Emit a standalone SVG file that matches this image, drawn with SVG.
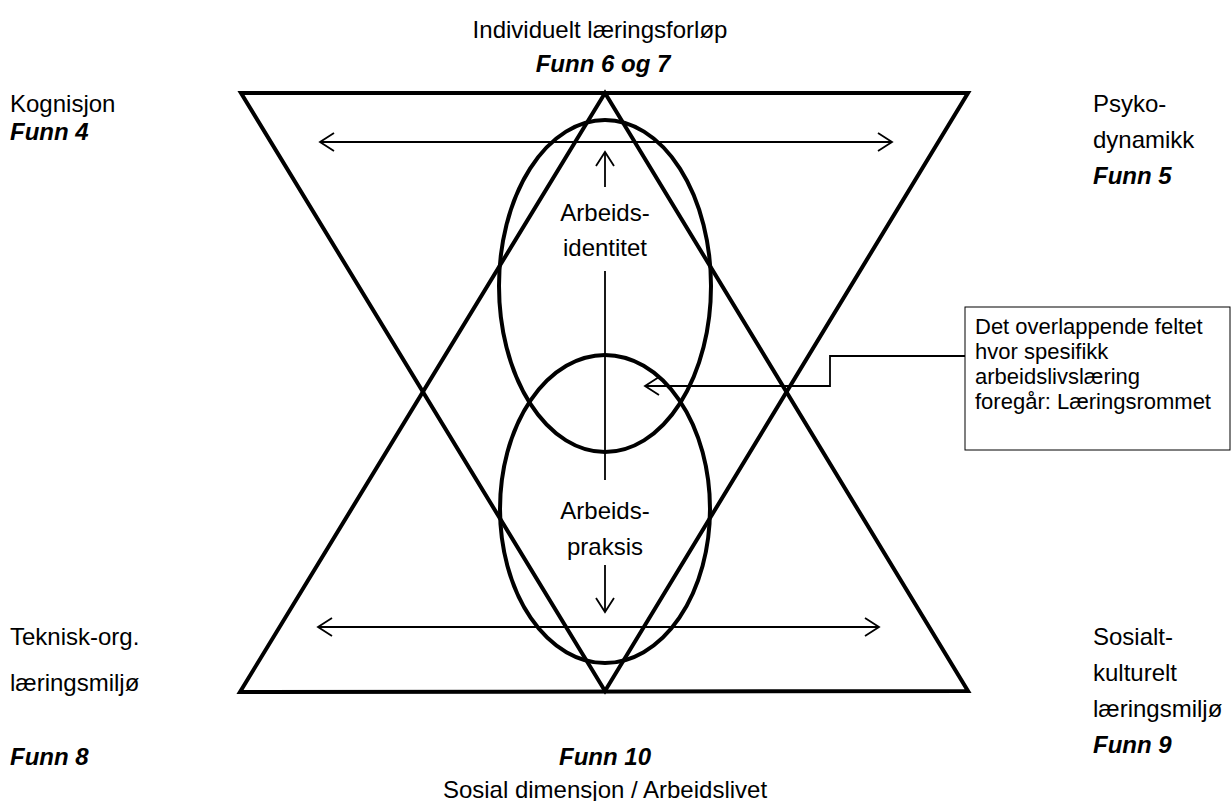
<svg xmlns="http://www.w3.org/2000/svg" width="1231" height="801" viewBox="0 0 1231 801">
<style>
text{font-family:"Liberation Sans",Arial,sans-serif;fill:#000}
.lbl{font-size:24px}
.fn{font-size:24px;font-weight:bold;font-style:italic}
.box{font-size:22px}
.thick{fill:none;stroke:#000;stroke-width:4;stroke-linejoin:miter}
.thin{fill:none;stroke:#000;stroke-width:1.8}
</style>
<defs>
<marker id="ah" markerWidth="20" markerHeight="20" refX="16" refY="10" orient="auto-start-reverse" markerUnits="userSpaceOnUse">
<path d="M2,1 L16,10 L2,19" fill="none" stroke="#000" stroke-width="1.8"/>
</marker>
</defs>
<rect width="1231" height="801" fill="#fff"/>
<g id="shapes">
<polygon id="down-triangle" class="thick" points="241,93 968,93 605,691"/>
<polygon id="up-triangle" class="thick" points="605,93 968,691 240,692"/>
<ellipse id="upper-ellipse" class="thick" cx="605" cy="286" rx="106" ry="166"/>
<ellipse id="lower-ellipse" class="thick" cx="605" cy="509" rx="105" ry="154"/>
</g>
<g id="connectors">
<line class="thin" x1="320" y1="142" x2="892" y2="142" marker-start="url(#ah)" marker-end="url(#ah)"/>
<line class="thin" x1="318" y1="627" x2="879" y2="627" marker-start="url(#ah)" marker-end="url(#ah)"/>
<line class="thin" x1="605" y1="187" x2="605" y2="152" marker-end="url(#ah)"/>
<line class="thin" x1="605" y1="271" x2="605" y2="480"/>
<line class="thin" x1="605" y1="565" x2="605" y2="612" marker-end="url(#ah)"/>
<polyline class="thin" points="965,356 830,356 830,386 645,386" marker-end="url(#ah)"/>
</g>
<g id="top-label">
<text class="lbl" x="600" y="38" text-anchor="middle">Individuelt læringsforløp</text>
<text class="fn" x="603" y="72" text-anchor="middle">Funn 6 og 7</text>
</g>
<g id="kognisjon">
<text class="lbl" x="10" y="112">Kognisjon</text>
<text class="fn" x="10" y="140">Funn 4</text>
</g>
<g id="psykodynamikk">
<text class="lbl" x="1093" y="112">Psyko-</text>
<text class="lbl" x="1093" y="148">dynamikk</text>
<text class="fn" x="1093" y="184">Funn 5</text>
</g>
<g id="teknisk">
<text class="lbl" x="10" y="645">Teknisk-org.</text>
<text class="lbl" x="10" y="691">læringsmiljø</text>
<text class="fn" x="10" y="765">Funn 8</text>
</g>
<g id="sosialt">
<text class="lbl" x="1093" y="645">Sosialt-</text>
<text class="lbl" x="1093" y="681">kulturelt</text>
<text class="lbl" x="1093" y="717">læringsmiljø</text>
<text class="fn" x="1093" y="753">Funn 9</text>
</g>
<g id="bottom-label">
<text class="fn" x="605" y="765" text-anchor="middle">Funn 10</text>
<text class="lbl" x="605" y="798" text-anchor="middle">Sosial dimensjon / Arbeidslivet</text>
</g>
<g id="arbeidsidentitet">
<text class="lbl" x="605" y="221" text-anchor="middle">Arbeids-</text>
<text class="lbl" x="605" y="256" text-anchor="middle">identitet</text>
</g>
<g id="arbeidspraksis">
<text class="lbl" x="605" y="519" text-anchor="middle">Arbeids-</text>
<text class="lbl" x="605" y="555" text-anchor="middle">praksis</text>
</g>
<g id="callout">
<rect x="965" y="307" width="265" height="143" fill="#fff" stroke="#000" stroke-width="1"/>
<text class="box" x="975" y="334">Det overlappende feltet</text>
<text class="box" x="975" y="359">hvor spesifikk</text>
<text class="box" x="975" y="384">arbeidslivslæring</text>
<text class="box" x="975" y="409">foregår: Læringsrommet</text>
</g>
</svg>
